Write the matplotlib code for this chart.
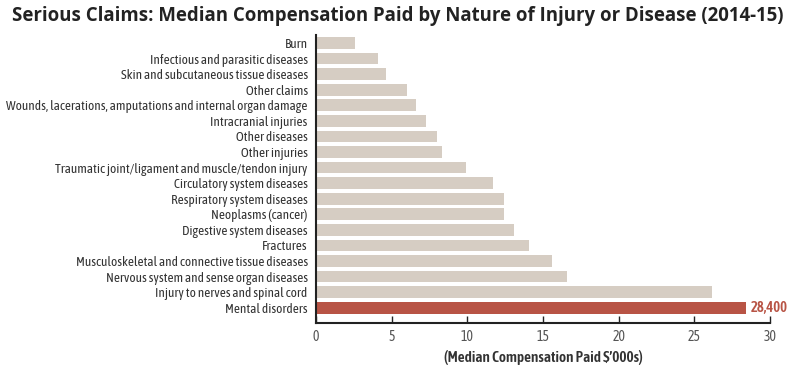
import matplotlib
matplotlib.use("Agg")
import matplotlib.pyplot as plt
from matplotlib import font_manager

# categories top to bottom as in the chart
categories = [
    "Burn",
    "Infectious and parasitic diseases",
    "Skin and subcutaneous tissue diseases",
    "Other claims",
    "Wounds, lacerations, amputations and internal organ damage",
    "Intracranial injuries",
    "Other diseases",
    "Other injuries",
    "Traumatic joint/ligament and muscle/tendon injury",
    "Circulatory system diseases",
    "Respiratory system diseases",
    "Neoplasms (cancer)",
    "Digestive system diseases",
    "Fractures",
    "Musculoskeletal and connective tissue diseases",
    "Nervous system and sense organ diseases",
    "Injury to nerves and spinal cord",
    "Mental disorders",
]
# median compensation, $'000s
values = [2.6, 4.1, 4.6, 6.0, 6.6, 7.3, 8.0, 8.3, 9.9,
          11.7, 12.4, 12.4, 13.1, 14.1, 15.6, 16.6, 26.2, 28.4]
highlight = "Mental disorders"
highlight_label = "28,400"
xticks = [0, 5, 10, 15, 20, 25, 30]
title = "Serious Claims: Median Compensation Paid by Nature of Injury or Disease (2014-15)"

# condensed face looks closest to the original; fall back to Roboto scaled down
names = {f.name for f in font_manager.fontManager.ttflist}
if "Asap Condensed" in names:
    family, scale = "Asap Condensed", 1.0
else:
    family, scale = "Roboto", 0.82
plt.rcParams["font.family"] = [family, "DejaVu Sans"]

bar_grey = "#d6cdc3"
bar_red = "#b85445"
text_col = "#333333"

fig = plt.figure(figsize=(8.0, 3.65), dpi=100)
ax = fig.add_axes([0.395, 0.115, 0.5675, 0.789])

n = len(categories)
ypos = list(range(n - 1, -1, -1))
colors = [bar_red if c == highlight else bar_grey for c in categories]
ax.barh(ypos, values, height=0.75, color=colors, edgecolor="none")

for c, v, y in zip(categories, values, ypos):
    if c == highlight:
        ax.text(v + 0.3, y, highlight_label, va="center", ha="left",
                color=bar_red, fontsize=10.5 * scale, fontweight="semibold")

ax.set_ylim(-0.98, n - 0.49)
ax.set_xlim(0, 30)
ax.set_yticks(ypos)
ax.set_yticklabels(categories, fontsize=9.5 * scale, color=text_col)
ax.set_xticks(xticks)
ax.set_xticklabels([str(t) for t in xticks], fontsize=10 * scale, color="#555555")
ax.tick_params(axis="y", length=0, pad=6)
ax.tick_params(axis="x", direction="in", length=5, width=1, color="#222222", pad=5)

for side in ("top", "right"):
    ax.spines[side].set_visible(False)
for side in ("left", "bottom"):
    ax.spines[side].set_linewidth(1.5)
    ax.spines[side].set_color("#222222")

ax.set_xlabel("(Median Compensation Paid \\$\u2019000s)", fontsize=11 * scale,
              fontweight="semibold", color=text_col, labelpad=4)

# title in a wider face, sized so it spans the same width as the original
t = fig.text(0.015, 1 - 21 / 365, title, fontsize=14, fontweight="bold",
             family=["Open Sans", "DejaVu Sans"], color="#222222",
             va="baseline", ha="left")
r = fig.canvas.get_renderer()
w = t.get_window_extent(renderer=r).width
t.set_fontsize(14 * 774 / w)

fig.savefig("out.png", dpi=100)
